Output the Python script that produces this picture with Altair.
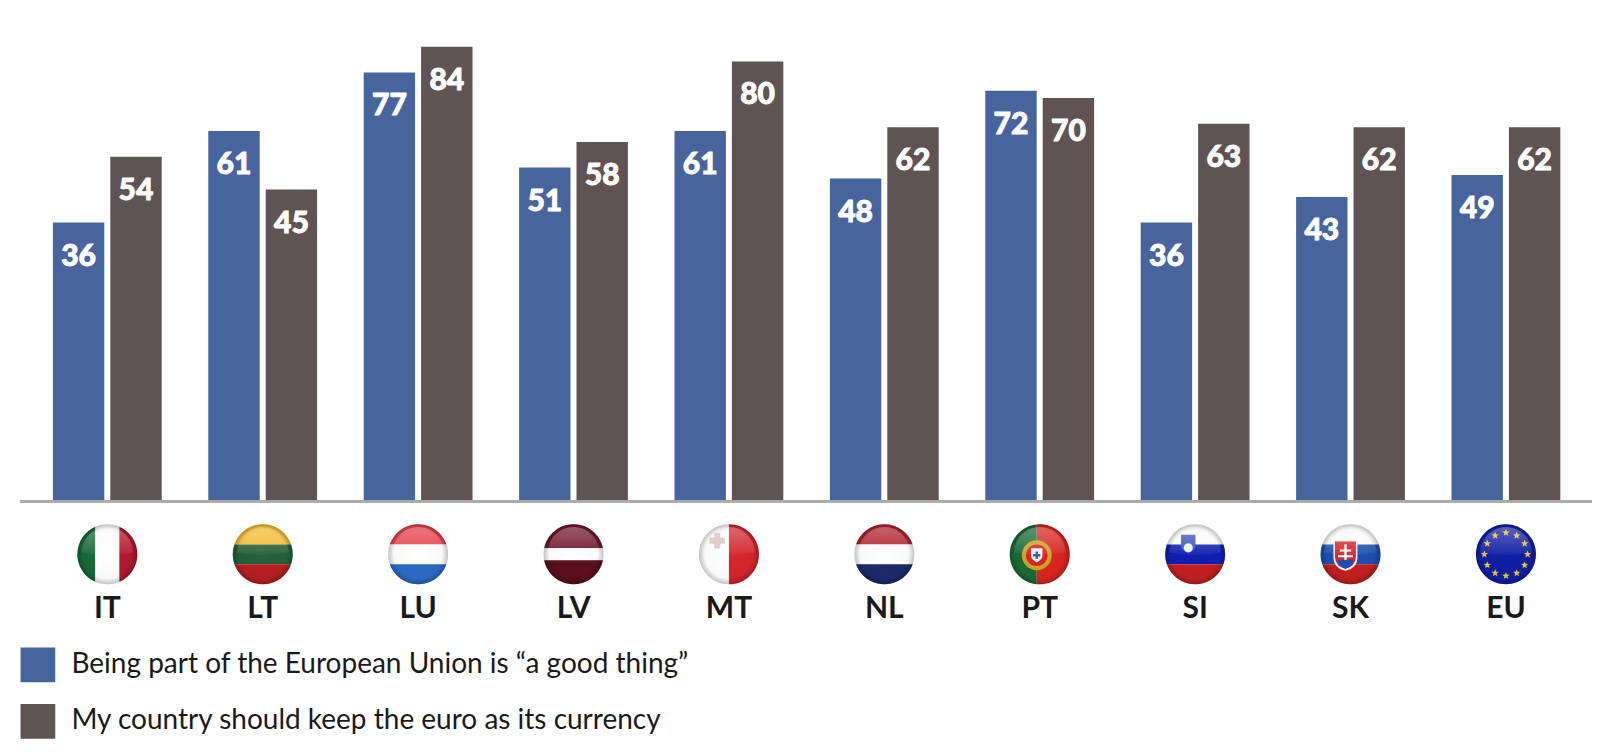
import math
import altair as alt
import pandas as pd

countries = ["IT", "LT", "LU", "LV", "MT", "NL", "PT", "SI", "SK", "EU"]
good_thing = [36, 61, 77, 51, 61, 48, 72, 36, 43, 49]
keep_euro = [54, 45, 84, 58, 80, 62, 70, 63, 62, 62]
series_names = ["Being part of the European Union is \u201ca good thing\u201d",
                "My country should keep the euro as its currency"]
series_colors = ["#47659C", "#5F5354"]

rows = []
for c, a, b in zip(countries, good_thing, keep_euro):
    rows.append({"country": c, "series": series_names[0], "value": a})
    rows.append({"country": c, "series": series_names[1], "value": b})
df = pd.DataFrame(rows)


# ---- flag glyphs: shapes in the unit circle of a symbol ----
def hband(y1, y2):
    a, b = math.sqrt(max(0, 1 - y1 * y1)), math.sqrt(max(0, 1 - y2 * y2))
    return f"M{-a:.3f},{y1} L{a:.3f},{y1} A1,1 0 0 1 {b:.3f},{y2} L{-b:.3f},{y2} A1,1 0 0 1 {-a:.3f},{y1} Z"


def vband(x1, x2):
    a, b = math.sqrt(max(0, 1 - x1 * x1)), math.sqrt(max(0, 1 - x2 * x2))
    return f"M{x1},{-a:.3f} L{x1},{a:.3f} A1,1 0 0 0 {x2},{b:.3f} L{x2},{-b:.3f} A1,1 0 0 0 {x1},{-a:.3f} Z"


def disc(cx=0.0, cy=0.0, r=1.0):
    return f"M{cx - r},{cy} A{r},{r} 0 1 1 {cx + r},{cy} A{r},{r} 0 1 1 {cx - r},{cy} Z"


def rect(x1, y1, x2, y2):
    return f"M{x1},{y1} L{x2},{y1} L{x2},{y2} L{x1},{y2} Z"


def shield(cx, y1, y2, w):
    m = y1 + (y2 - y1) * 0.55
    return f"M{cx - w},{y1} L{cx + w},{y1} L{cx + w},{m} Q{cx + w},{y2 - .1} {cx},{y2} Q{cx - w},{y2 - .1} {cx - w},{m} Z"


def star(cx, cy, r):
    pts = []
    for i in range(10):
        t = -math.pi / 2 + i * math.pi / 5
        q = r if i % 2 == 0 else r * 0.42
        pts.append(f"{cx + q * math.cos(t):.3f},{cy + q * math.sin(t):.3f}")
    return "M" + " L".join(pts) + " Z"


def cross(cx, cy, r, t):
    return (rect(cx - t, cy - r, cx + t, cy + r) + " " + rect(cx - r, cy - t, cx + r, cy + t))


flag_parts = {
    "IT": [(vband(-0.999, -0.4), "#17693A"), (vband(-0.4, 0.4), "#FFFFFF"), (vband(0.4, 0.999), "#B5172E")],
    "LT": [(hband(-0.999, -0.33), "#F6BE2E"), (hband(-0.33, 0.33), "#24603A"), (hband(0.33, 0.999), "#B7201F")],
    "LU": [(hband(-0.999, -0.33), "#E8404A"), (hband(-0.33, 0.33), "#FFFFFF"), (hband(0.33, 0.999), "#2B6CC4")],
    "LV": [(hband(-0.999, -0.2), "#73152A"), (hband(-0.2, 0.2), "#FFFFFF"), (hband(0.2, 0.999), "#5A0F1C")],
    "MT": [(vband(-0.999, 0.0), "#FFFFFF"), (vband(0.0, 0.999), "#D5262B"),
           (cross(-0.39, -0.45, 0.26, 0.1), "#DCC6CA")],
    "NL": [(hband(-0.999, -0.33), "#B2202E"), (hband(-0.33, 0.33), "#FFFFFF"), (hband(0.33, 0.999), "#1B2A6B")],
    "PT": [(vband(-0.999, -0.1), "#1A6B35"), (vband(-0.1, 0.999), "#D9261F"),
           (disc(-0.1, 0.03, 0.5), "#C9A52B"), (disc(-0.1, 0.03, 0.36), "#D9261F"),
           (shield(-0.1, -0.2, 0.27, 0.19), "#F2F2F2"), (cross(-0.1, 0.03, 0.12, 0.04), "#2F5FA8")],
    "SI": [(hband(-0.999, -0.33), "#FFFFFF"), (hband(-0.33, 0.33), "#0E1FB0"), (hband(0.33, 0.999), "#C3201F"),
           (shield(-0.23, -0.65, -0.03, 0.24), "#3A55C0"), (disc(-0.23, -0.22, 0.15), "#F4F4F4")],
    "SK": [(hband(-0.999, -0.33), "#FFFFFF"), (hband(-0.33, 0.33), "#1D4FB0"), (hband(0.33, 0.999), "#C3201F"),
           (shield(-0.17, -0.48, 0.55, 0.4), "#F4F4F4"), (shield(-0.17, -0.43, 0.48, 0.35), "#D9262B"),
           (rect(-0.21, -0.33, -0.13, 0.22), "#FFFFFF"), (rect(-0.36, -0.16, 0.02, -0.09), "#FFFFFF"),
           (rect(-0.42, 0.03, 0.08, 0.1), "#FFFFFF"), (shield(-0.17, 0.18, 0.48, 0.24), "#1D4FB0")],
    "EU": [(disc(), "#0F1FA5")] + [
        (star(0.72 * math.cos(i * math.pi / 6), 0.72 * math.sin(i * math.pi / 6), 0.13), "#F3C52F")
        for i in range(12)],
}

flag_rows = []
for c in countries:
    for path, fill in flag_parts[c]:
        flag_rows.append({"country": c, "path": path, "fill": fill})
flags_df = pd.DataFrame(flag_rows)
gloss_df = pd.DataFrame({"country": countries})

BASE = 493.5
x_scale = alt.Scale(domain=countries, range=[21.65, 1575.65], paddingInner=0, paddingOuter=0)
off_scale = alt.Scale(domain=series_names, range=[23.25, 132.05], paddingInner=6 / 57.4, paddingOuter=0)
y_scale = alt.Scale(domain=[-40.2, 94.6], nice=False, zero=False)

x_enc = alt.X("country:N", scale=x_scale, sort=countries, title=None,
              axis=alt.Axis(orient="bottom", domain=False, ticks=False, labelAngle=0, labelPadding=92,
                            labelFont="Lato", labelFontSize=30, labelFontWeight=700, labelColor="#1A1A1A",
                            grid=False))

bars = alt.Chart(df).mark_bar(cornerRadius=0).encode(
    x=x_enc,
    xOffset=alt.XOffset("series:N", scale=off_scale, sort=series_names),
    y=alt.Y("value:Q", scale=y_scale, axis=None, stack=None),
    y2=alt.value(BASE),
    color=alt.Color("series:N", sort=series_names,
                    scale=alt.Scale(domain=series_names, range=series_colors),
                    legend=alt.Legend(title=None, orient="none", legendX=12.4, legendY=639.3, direction="vertical",
                                      symbolType="square", symbolSize=1204, symbolStrokeWidth=0,
                                      symbolOpacity=1, rowPadding=21.5, labelOffset=16,
                                      labelFont="Lato", labelFontSize=28, labelColor="#1A1A1A",
                                      labelLimit=800)),
)

labels = alt.Chart(df).mark_text(font="Lato", fontSize=30, fontWeight=900, color="white",
                                 stroke="white", strokeWidth=0.9,
                                 baseline="middle", dy=34).encode(
    x=x_enc,
    xOffset=alt.XOffset("series:N", scale=off_scale, sort=series_names),
    y=alt.Y("value:Q", scale=y_scale, axis=None, stack=None),
    text="value:Q",
)

baseline = alt.Chart(df).mark_rule(color="#ABABAB", strokeWidth=1.5).encode(
    x=alt.value(12.5), x2=alt.value(1584), y=alt.value(BASE))

FLAG_Y = 546.3
FLAG_SIZE = 3600
flags = alt.Chart(flags_df).mark_point(filled=True, opacity=1, strokeWidth=0, size=FLAG_SIZE).encode(
    x=x_enc,
    y=alt.value(FLAG_Y),
    shape=alt.Shape("path:N", scale=None),
    fill=alt.Fill("fill:N", scale=None),
    detail="path:N",
)

vignette = alt.Chart(gloss_df).mark_point(
    filled=True, opacity=1, strokeWidth=0, size=FLAG_SIZE,
    fill={"gradient": "radial", "x1": 0.5, "y1": 0.5, "x2": 0.5, "y2": 0.5, "r1": 0, "r2": 0.5,
          "stops": [{"offset": 0.0, "color": "rgba(0,0,0,0)"},
                    {"offset": 0.8, "color": "rgba(0,0,0,0.02)"},
                    {"offset": 1.0, "color": "rgba(0,0,0,0.24)"}]},
).encode(x=x_enc, y=alt.value(FLAG_Y), shape=alt.value(disc()))

dome = alt.Chart(gloss_df).mark_point(
    filled=True, opacity=1, strokeWidth=0, size=FLAG_SIZE,
    fill={"gradient": "linear", "x1": 0, "y1": 0, "x2": 0, "y2": 1,
          "stops": [{"offset": 0.0, "color": "rgba(255,255,255,0.3)"},
                    {"offset": 1.0, "color": "rgba(255,255,255,0.05)"}]},
).encode(x=x_enc, y=alt.value(FLAG_Y),
         shape=alt.value("M-0.86,-0.05 A0.86,0.86 0 0 1 0.86,-0.05 Q0,0.08 -0.86,-0.05 Z"))

chart = alt.layer(bars, baseline, labels, flags, vignette, dome).properties(
    width=1586, height=BASE,
    autosize=alt.AutoSizeParams(type="none"),
    padding={"left": 0, "top": 0, "right": 0, "bottom": 240.5},
    background="white",
).configure_view(stroke=None)

chart.save("out.html", embed_options={"renderer": "svg", "actions": False})
